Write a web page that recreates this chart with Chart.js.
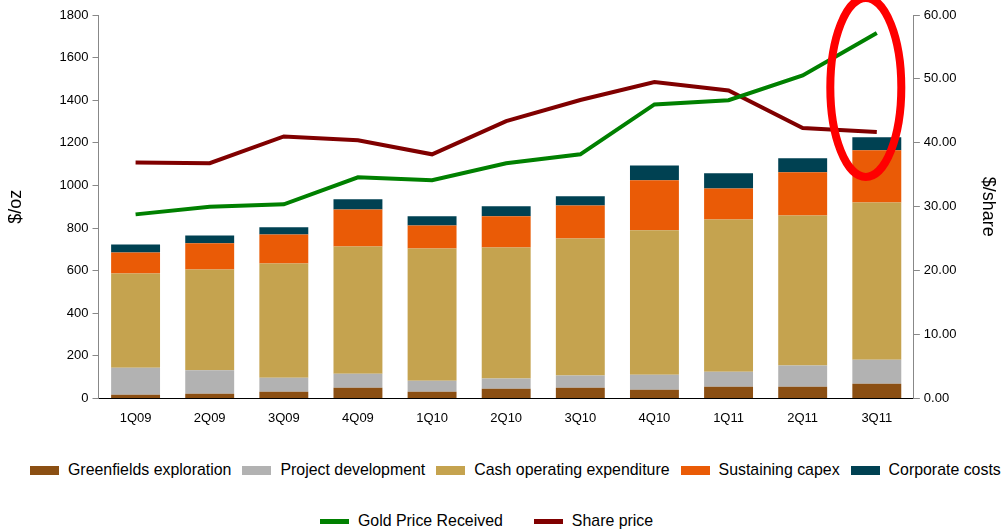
<!DOCTYPE html>
<html>
<head>
<meta charset="utf-8">
<script src="https://cdn.jsdelivr.net/npm/chart.js@4.4.0/dist/chart.umd.min.js"></script>
<style>
  body { margin: 0; background: #fff; font-family: "Liberation Sans", Arial, sans-serif; }
  #wrap { position: relative; width: 1004px; height: 440px; }
  .legend-row { display: flex; align-items: center; font-size: 15.9px; color: #000; white-space: nowrap; }
  .legend-item { display: flex; align-items: center; }
  .legend-box { display: inline-block; }
</style>
</head>
<body>
<div id="wrap"><canvas id="costChart"></canvas></div>
<div id="legend-bars" class="legend-row" style="position:absolute; left:30px; top:461px;"></div>
<div id="legend-lines" class="legend-row" style="position:absolute; left:320px; top:512px;"></div>
<script>
const quarters = ['1Q09', '2Q09', '3Q09', '4Q09', '1Q10', '2Q10', '3Q10', '4Q10', '1Q11', '2Q11', '3Q11'];

// $/oz stacked cost components
const greenfields = [17, 22, 31, 50, 31, 45, 50, 41, 55, 55, 69];
const projectDev = [127, 110, 66, 66, 52, 48, 57, 70, 70, 99, 113];
const cashOpex = [442, 473, 536, 597, 621, 616, 644, 678, 715, 705, 738];
const sustainingCapex = [99, 123, 137, 174, 108, 146, 155, 235, 146, 203, 245];
const corporateCosts = [38, 37, 33, 48, 43, 47, 43, 70, 71, 65, 61];

// lines
const goldPrice = [864, 900, 911, 1038, 1024, 1104, 1146, 1380, 1400, 1516, 1715]; // $/oz
const sharePrice = [36.9, 36.8, 41.0, 40.4, 38.2, 43.4, 46.7, 49.5, 48.2, 42.3, 41.7]; // $/share

const fontFamily = '"Liberation Sans", Arial, sans-serif';

// red ring drawn round the last quarter
const ringPlugin = {
  id: 'ring',
  afterDatasetsDraw(chart) {
    const ctx = chart.ctx;
    const cx = chart.scales.x.getPixelForValue(quarters.length - 1) - 11;
    const cy = chart.scales.y.getPixelForValue(1460);
    ctx.save();
    ctx.beginPath();
    ctx.ellipse(cx, cy, 35.5, 89.5, 0, 0, Math.PI * 2);
    ctx.strokeStyle = '#ff0000';
    ctx.lineWidth = 8;
    ctx.stroke();
    ctx.restore();
  }
};

const ctx = document.getElementById('costChart').getContext('2d');
const chart = new Chart(ctx, {
  type: 'bar',
  data: {
    labels: quarters,
    datasets: [
      { label: 'Gold Price Received', type: 'line', data: goldPrice, yAxisID: 'y', borderColor: '#008000', backgroundColor: '#008000', borderWidth: 4, pointRadius: 0, tension: 0, order: 0 },
      { label: 'Share price', type: 'line', data: sharePrice, yAxisID: 'y1', borderColor: '#800000', backgroundColor: '#800000', borderWidth: 4, pointRadius: 0, tension: 0, order: 0 },
      { label: 'Greenfields exploration', data: greenfields, backgroundColor: '#8b4f13', stack: 'c', order: 1 },
      { label: 'Project development', data: projectDev, backgroundColor: '#b2b2b2', stack: 'c', order: 1 },
      { label: 'Cash operating expenditure', data: cashOpex, backgroundColor: '#c5a34f', stack: 'c', order: 1 },
      { label: 'Sustaining capex', data: sustainingCapex, backgroundColor: '#ea5b06', stack: 'c', order: 1 },
      { label: 'Corporate costs', data: corporateCosts, backgroundColor: '#004152', stack: 'c', order: 1 }
    ]
  },
  options: {
    responsive: true,
    maintainAspectRatio: false,
    animation: false,
    layout: { padding: { top: 15, left: 5, right: 4, bottom: 10 } },
    datasets: { bar: { barPercentage: 1, categoryPercentage: 0.66 } },
    plugins: {
      legend: { display: false },
      tooltip: { enabled: false }
    },
    scales: {
      x: {
        stacked: true,
        grid: { display: false },
        border: { display: true, color: '#000', width: 1 },
        ticks: { color: '#000', padding: 4, font: { family: fontFamily, size: 13 } }
      },
      y: {
        stacked: true,
        position: 'left',
        min: 0,
        max: 1800,
        grid: { display: true, drawOnChartArea: false, drawTicks: true, tickLength: 6, color: '#888' },
        border: { display: true, color: '#888' },
        ticks: { stepSize: 200, color: '#000', padding: 4, font: { family: fontFamily, size: 13 }, callback: v => String(v) },
        title: { display: true, text: '$/oz', color: '#000', padding: { top: 0, bottom: 29 }, font: { family: fontFamily, size: 18 } }
      },
      y1: {
        position: 'right',
        min: 0,
        max: 60,
        grid: { display: true, drawOnChartArea: false, drawTicks: true, tickLength: 6, color: '#888' },
        border: { display: true, color: '#888' },
        ticks: { stepSize: 10, color: '#000', padding: 4, font: { family: fontFamily, size: 13 }, callback: v => v.toFixed(2) },
        title: { display: true, text: '$/share', color: '#000', padding: { top: 1, bottom: 17 }, font: { family: fontFamily, size: 18 } }
      }
    }
  },
  plugins: [ringPlugin]
});

// html legend in two rows: bars, then lines
function addLegendItem(rowId, ds, boxH, gap) {
  const item = document.createElement('span');
  item.className = 'legend-item';
  item.style.marginRight = gap + 'px';
  const box = document.createElement('span');
  box.className = 'legend-box';
  box.style.width = '29px';
  box.style.height = boxH + 'px';
  box.style.marginRight = '9px';
  box.style.background = ds.backgroundColor;
  const text = document.createElement('span');
  text.textContent = ds.label;
  item.appendChild(box);
  item.appendChild(text);
  document.getElementById(rowId).appendChild(item);
}
chart.data.datasets.forEach(ds => {
  if (ds.type === 'line') {
    addLegendItem('legend-lines', ds, 5, 31);
  } else {
    addLegendItem('legend-bars', ds, 9, 11);
  }
});
</script>
</body>
</html>
